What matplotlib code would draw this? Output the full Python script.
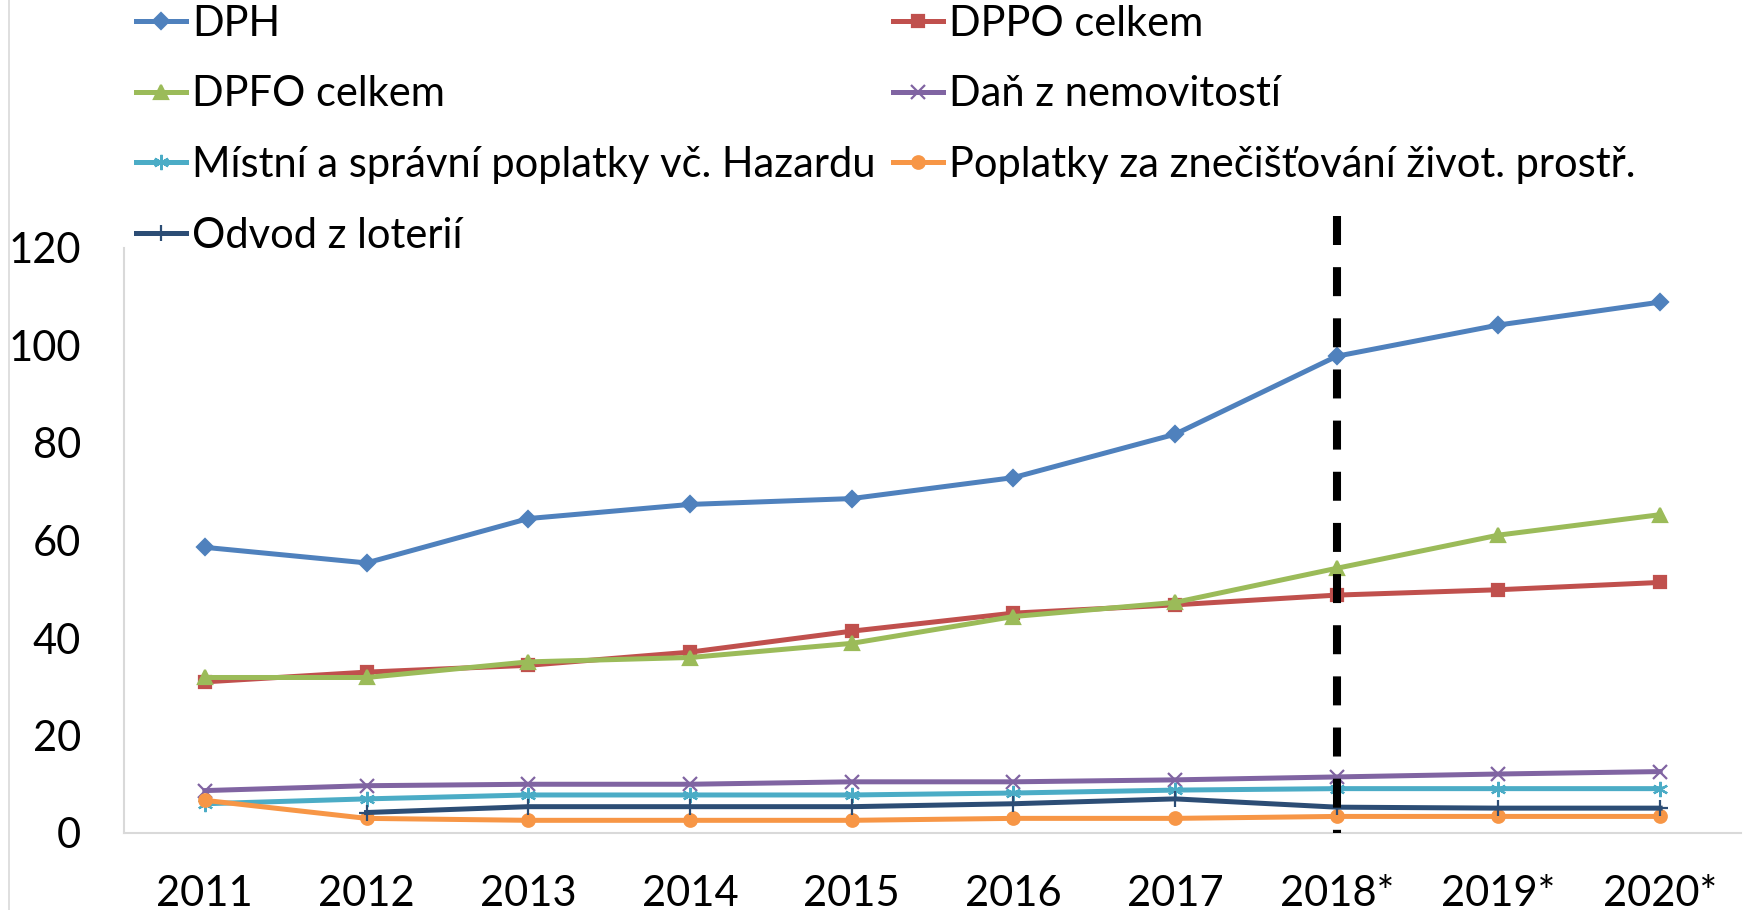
import matplotlib
matplotlib.use("Agg")
import matplotlib.pyplot as plt
from matplotlib.lines import Line2D
import numpy as np

plt.rcParams['font.family'] = ['Lato', 'DejaVu Sans']

years = ["2011", "2012", "2013", "2014", "2015", "2016", "2017", "2018*", "2019*", "2020*"]
dph = [58.6, 55.4, 64.5, 67.4, 68.6, 72.9, 81.8, 97.8, 104.2, 108.9]
dppo = [31.0, 33.0, 34.4, 37.1, 41.4, 45.1, 46.8, 48.8, 49.9, 51.4]
dpfo = [31.9, 31.9, 35.1, 36.0, 38.9, 44.4, 47.3, 54.3, 61.1, 65.3]
dan_nem = [8.7, 9.7, 10.0, 10.0, 10.5, 10.5, 10.9, 11.5, 12.1, 12.6]
mistni = [6.0, 7.0, 7.8, 7.8, 7.8, 8.2, 8.8, 9.1, 9.1, 9.1]
poplatky = [6.7, 3.0, 2.6, 2.6, 2.6, 3.0, 3.0, 3.4, 3.4, 3.4]
odvod = [np.nan, 4.2, 5.4, 5.4, 5.4, 6.0, 7.0, 5.3, 5.1, 5.1]

labels = ["DPH", "DPPO celkem", "DPFO celkem", "Daň z nemovitostí",
          "Místní a správní poplatky vč. Hazardu",
          "Poplatky za znečišťování život. prostř.", "Odvod z loterií"]
series = [dph, dppo, dpfo, dan_nem, mistni, poplatky, odvod]
colors = ["#4F81BD", "#C0504D", "#9BBB59", "#8064A2", "#4BACC6", "#F79646", "#2C4D75"]
markers = ["D", "s", "^", "x", (6, 2, 0), "o", "+"]
msizes = [8, 8, 10, 10, 11, 9, 12]
split_year = "2018*"
dash_top = 126.5

W, H = 1743, 910
FS = 30
fig = plt.figure(figsize=(W / 100, H / 100), dpi=100)
ax = fig.add_axes([124 / W, 1 - 833 / H, (1741 - 124) / W, (833 - 248) / H])

x = np.arange(len(years))
handles = []
for s, lab, c, m, ms in zip(series, labels, colors, markers, msizes):
    h, = ax.plot(x, s, color=c, lw=3.6, marker=m, markersize=ms,
                 markerfacecolor=c, markeredgecolor=c, mew=1.6, label=lab,
                 clip_on=False, zorder=3)
    handles.append(h)

xi = years.index(split_year)
ax.plot([xi, xi], [dash_top, 0], color="black", lw=5.8, dashes=(3.6, 2.75),
        clip_on=False, zorder=4, solid_capstyle='butt', dash_capstyle='butt')

ax.set_xlim(-0.5, len(years) - 0.5)
ax.set_ylim(0, 120)
ax.set_yticks(np.arange(0, 121, 20))
ax.set_xticks(x)
ax.set_xticklabels(years)
ax.tick_params(axis='both', length=0, labelsize=FS, colors='black')
ax.tick_params(axis='y', pad=31)
ax.tick_params(axis='x', pad=30)
for sp in ["top", "right"]:
    ax.spines[sp].set_visible(False)
for sp in ["left", "bottom"]:
    ax.spines[sp].set_color("#D9D9D9")
    ax.spines[sp].set_linewidth(1.5)

# legend: two columns placed independently
col1 = [handles[i] for i in (0, 2, 4, 6)]
col2 = [handles[i] for i in (1, 3, 5)]
common = dict(frameon=False, fontsize=FS, handlelength=1.2, handletextpad=0.15,
              labelspacing=0.78, borderpad=0, borderaxespad=0, loc='upper left',
              bbox_transform=fig.transFigure)
fig.legend(handles=col1, labels=[h.get_label() for h in col1],
           bbox_to_anchor=(136 / W, 1 - 5 / H), **common)
fig.legend(handles=col2, labels=[h.get_label() for h in col2],
           bbox_to_anchor=(893 / W, 1 - 5 / H), **common)

# chart area border (left edge)
fig.add_artist(Line2D([8.5 / W, 8.5 / W], [0, 1], color="#D9D9D9", lw=1.2,
                      transform=fig.transFigure))

fig.savefig("out.png", dpi=100)
